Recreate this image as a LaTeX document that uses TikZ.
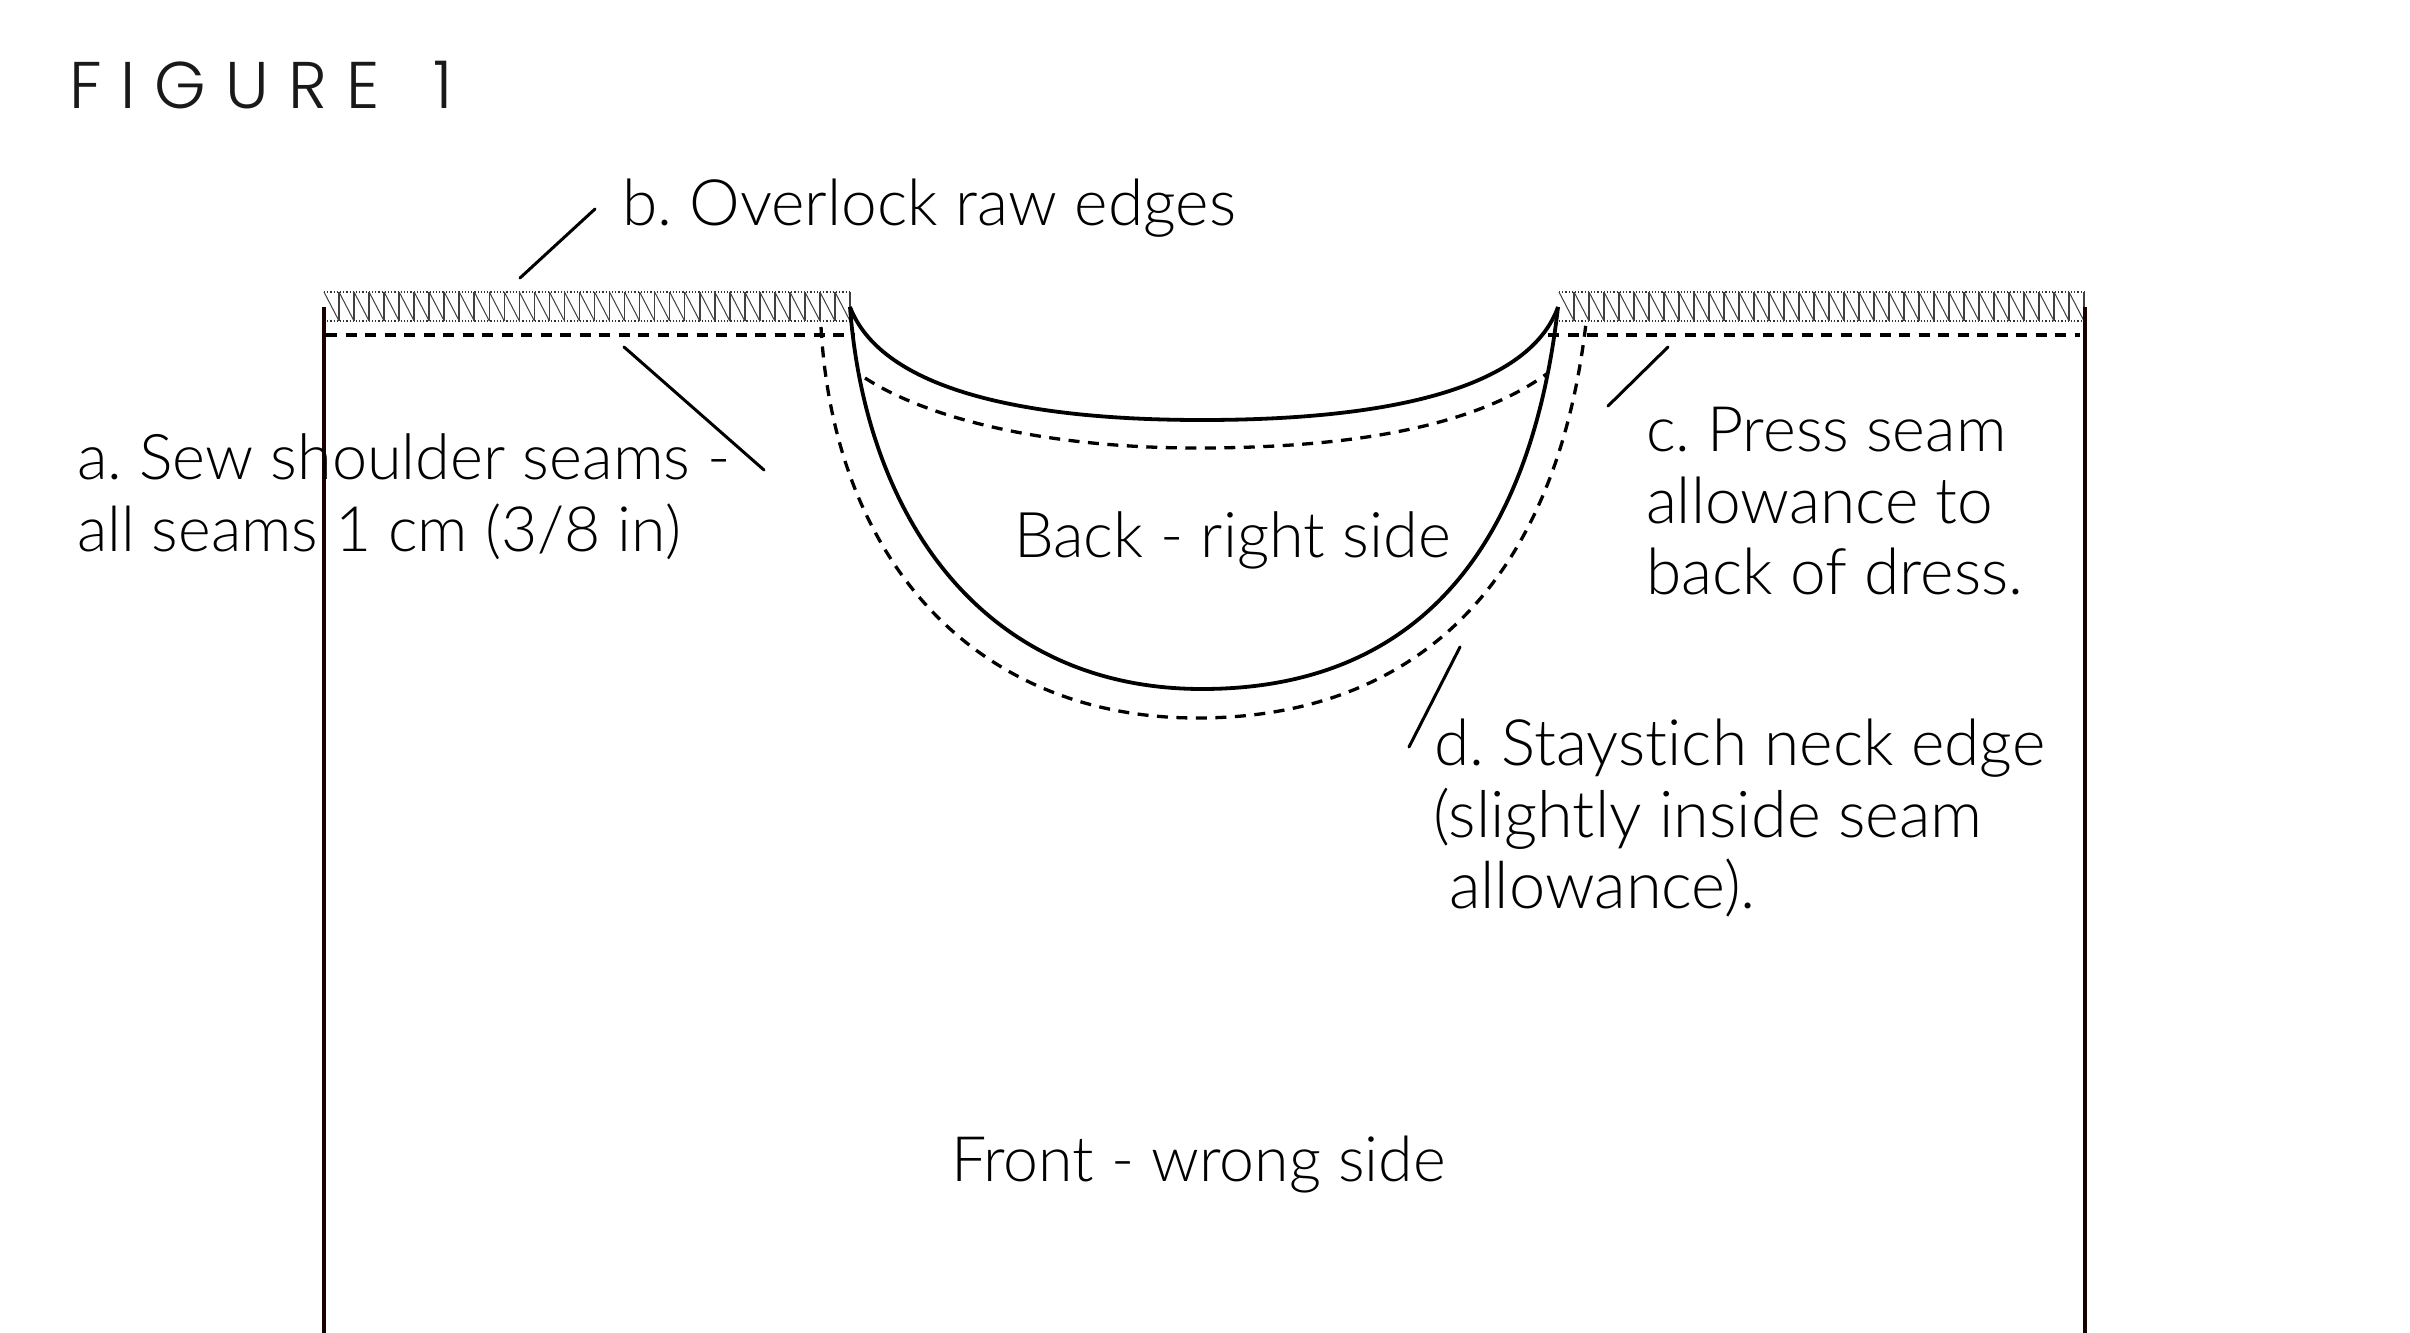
\documentclass[tikz,border=0pt]{standalone}
\usepackage{fontspec}
\setmainfont[Ligatures=NoCommon]{Lato Light}
\newfontface\figfont[LetterSpace=29]{Poppins Light}
\tikzset{
  x=1pt,y=-1pt,
  label text/.style={anchor=base west,inner sep=0pt,outer sep=0pt,font=\fontsize{#1}{72}\selectfont\frenchspacing,text=black},
  label text/.default=64,
  fig title/.style={anchor=base west,inner sep=0pt,outer sep=0pt,font=\fontsize{66}{72}\figfont,text=black!90},
  leader/.style={line width=3pt,black,line cap=round},
  garment/.style={line width=3.4pt,black!90!red},
  neck/.style={line width=3.8pt,black},
  stitch/.style={line width=3.3pt,black,dash pattern=on 11pt off 8.5pt},
  hemline/.style={line width=1.2pt,black!80,dotted},
  zigdiag/.style={line width=1pt,black!75},
  zigvert/.style={line width=1.6pt,black!75},
}
\begin{document}
\begin{tikzpicture}
\useasboundingbox[fill=white] (0,0) rectangle (2410,1333);
% overlock left and right
\foreach \xa/\xb/\n in {324/850/35,1559/2084/35}{
  \draw[hemline] (\xa,292) -- (\xb,292);
  \draw[hemline] (\xa,321) -- (\xb,321);
  \pgfmathsetmacro{\per}{(\xb-\xa)/\n}
  \foreach \i in {1,...,\n}{
    \pgfmathsetmacro{\xl}{\xa+(\i-1)*\per}
    \pgfmathsetmacro{\xr}{\xa+\i*\per}
    \draw[zigdiag] (\xl,292) -- (\xr,321);
    \draw[zigvert] (\xr,321) -- (\xr,292);
  }
}
% side edges
\draw[garment] (324,307) -- (324,1333);
\draw[garment] (2085,307) -- (2085,1333);
% stitching
\draw[stitch] (326,335) -- (855,335);
\draw[stitch] (1548,335) -- (2080,335);
\draw[stitch] (821,327) .. controls (834,560) and (975,718) .. (1197,718)
   .. controls (1410,718) and (1555,590) .. (1586,323);
\draw[stitch] (865,378) .. controls (930,420) and (1050,448) .. (1197,448)
   .. controls (1340,448) and (1470,430) .. (1548,373);
% necklines
\draw[neck] (850,307) .. controls (866,520) and (985,689) .. (1202,689)
   .. controls (1400,689) and (1528,570) .. (1558,307);
\draw[neck] (850,307) .. controls (880,385) and (1010,420) .. (1202,420)
   .. controls (1400,420) and (1530,385) .. (1558,307);
% texts
\node[fig title] (title) at (69,108) {FIGURE\hspace{17pt} 1};
\node[label text] (b) at (622,225.5) {b. Overlock raw edges};
\node[label text=63] (a1) at (77,479.5) {a. Sew shoulder seams -};
\node[label text=62.5] (a2) at (77,551.5) {all seams 1 cm (3/8 in)};
\node[label text=63] (back) at (1014,557.5) {Back - right side};
\node[label text=62.7] (c1) at (1646,451.5) {c. Press seam};
\node[label text] (c2) at (1646,523.5) {allowance to};
\node[label text] (c3) at (1646,594.5) {back of dress.};
\node[label text] (d1) at (1434,765.5) {d. Staystich neck edge};
\node[label text=64.7] (d2) at (1433,837.5) {(slightly inside seam};
\node[label text=65] (d3) at (1449,908.5) {allowance).};
\node[label text=62.6] (front) at (951,1181.5) {Front - wrong side};
% leaders
\coordinate (bs) at (595,209); \coordinate (be) at (520,278);
\coordinate (as) at (624,347); \coordinate (ae) at (764,470);
\coordinate (cs) at (1668,347); \coordinate (ce) at (1608,406);
\coordinate (ds) at (1460,647); \coordinate (de) at (1409,747);
\draw[leader] (bs) -- (be);
\draw[leader] (as) -- (ae);
\draw[leader] (cs) -- (ce);
\draw[leader] (ds) -- (de);
\end{tikzpicture}
\end{document}
